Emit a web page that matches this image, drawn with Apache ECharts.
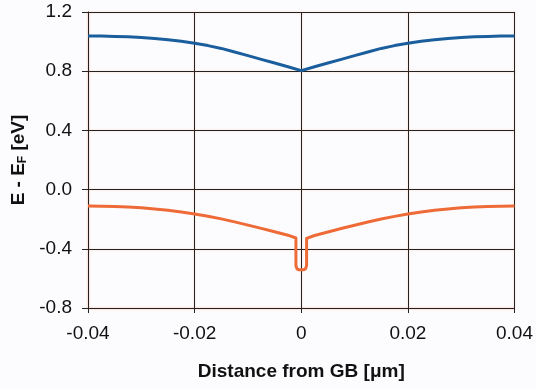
<!DOCTYPE html>
<html>
<head>
<meta charset="utf-8">
<script src="https://cdn.jsdelivr.net/npm/echarts@6/dist/echarts.min.js"></script>
<style>html,body{margin:0;padding:0;background:#fcfcfe;}#c{width:536px;height:389px;}</style>
</head>
<body>
<div id="c"></div>
<script>
const xTicks = [-0.04, -0.02, 0, 0.02, 0.04];
const yTicks = [-0.8, -0.4, 0.0, 0.4, 0.8, 1.2];

const cbX = [-0.04,-0.0375,-0.035,-0.0325,-0.03,-0.0275,-0.025,-0.0225,-0.02,-0.0175,-0.015,-0.0125,-0.01,-0.0075,-0.005,-0.0025,0,
             0.0025,0.005,0.0075,0.01,0.0125,0.015,0.0175,0.02,0.0225,0.025,0.0275,0.03,0.0325,0.035,0.0375,0.04];
const cbY = [1.038,1.037,1.035,1.032,1.027,1.021,1.013,1.002,0.989,0.973,0.954,0.930,0.905,0.880,0.855,0.830,0.804,
             0.830,0.855,0.880,0.905,0.930,0.954,0.973,0.989,1.002,1.013,1.021,1.027,1.032,1.035,1.037,1.038];

const vbX = [-0.04,-0.0375,-0.035,-0.0325,-0.03,-0.0275,-0.025,-0.0225,-0.02,-0.0175,-0.015,-0.0125,-0.01,-0.0075,-0.005,-0.0025,-0.001,
             -0.001,-0.0008,-0.0004,0,0.0004,0.0008,0.001,
             0.001,0.0025,0.005,0.0075,0.01,0.0125,0.015,0.0175,0.02,0.0225,0.025,0.0275,0.03,0.0325,0.035,0.0375,0.04];
const vbY = [-0.111,-0.112,-0.114,-0.118,-0.123,-0.131,-0.140,-0.151,-0.165,-0.180,-0.198,-0.218,-0.240,-0.262,-0.285,-0.308,-0.327,
             -0.515,-0.535,-0.542,-0.542,-0.542,-0.535,-0.515,
             -0.330,-0.310,-0.287,-0.263,-0.241,-0.219,-0.199,-0.181,-0.165,-0.151,-0.140,-0.131,-0.123,-0.118,-0.114,-0.112,-0.111];

const zip = (a, b) => a.map((v, i) => [v, b[i]]);

const gridLine = {color: '#222222', width: 1, shadowColor: 'rgba(240,120,80,0.4)', shadowBlur: 2};
const chart = echarts.init(document.getElementById('c'), null, {renderer: 'canvas'});
chart.setOption({
  backgroundColor: '#fcfcfe',
  animation: false,
  grid: {left: 88, right: 21, top: 12, bottom: 81, show: false},
  xAxis: {
    type: 'value', min: xTicks[0], max: xTicks[xTicks.length - 1], interval: 0.02,
    name: 'Distance from GB [μm]', nameLocation: 'middle', nameGap: 54,
    nameTextStyle: {fontFamily: 'Liberation Sans, Arial', fontWeight: 'bold', fontSize: 19, color: '#111'},
    axisLine: {onZero: false, lineStyle: gridLine},
    axisTick: {show: true, length: 5, lineStyle: {color: '#222222'}},
    axisLabel: {margin: 16, fontFamily: 'Liberation Sans, Arial', fontSize: 19, color: '#111',
      formatter: v => Math.abs(v) < 1e-9 ? '0' : v.toFixed(2)},
    splitLine: {show: true, lineStyle: gridLine}
  },
  yAxis: {
    type: 'value', min: yTicks[0], max: yTicks[yTicks.length - 1], interval: 0.4,
    name: '{a|E - E}{s|F}{a| [eV]}', nameLocation: 'middle', nameGap: 59, nameRotate: 90,
    nameTextStyle: {
      rich: {
        a: {fontFamily: 'Liberation Sans, Arial', fontWeight: 'bold', fontSize: 19, color: '#111'},
        s: {fontFamily: 'Liberation Sans, Arial', fontWeight: 'bold', fontSize: 12, color: '#111', padding: [8, 0, 0, 0]}
      }
    },
    axisLine: {onZero: false, lineStyle: gridLine},
    axisTick: {show: true, length: 6, lineStyle: {color: '#222222'}},
    axisLabel: {margin: 16, fontFamily: 'Liberation Sans, Arial', fontSize: 19, color: '#111',
      formatter: v => (Math.abs(v) < 1e-9 ? 0 : v).toFixed(1)},
    splitLine: {show: true, lineStyle: gridLine}
  },
  series: [
    {type: 'line', data: zip(cbX, cbY), showSymbol: false, smooth: false,
     lineStyle: {color: '#1b5e9e', width: 3, join: 'round'}},
    {type: 'line', data: zip(vbX, vbY), showSymbol: false, smooth: false,
     lineStyle: {color: '#ee6b37', width: 3, join: 'round'}}
  ]
});
</script>
</body>
</html>
